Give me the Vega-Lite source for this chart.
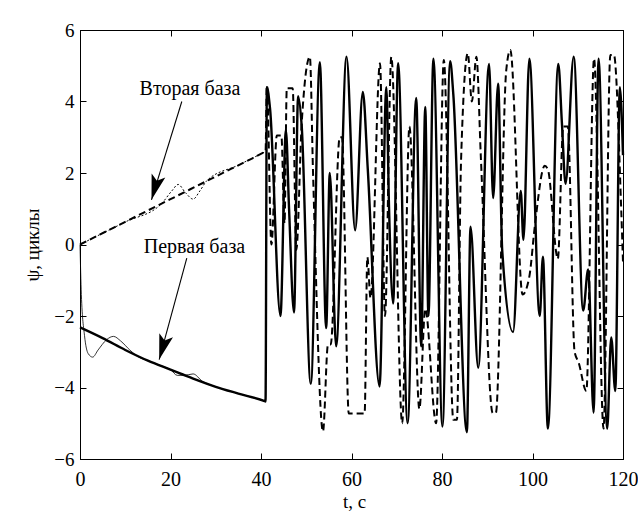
{
 "$schema": "https://vega.github.io/schema/vega-lite/v6.json",
 "width": 543,
 "height": 429,
 "autosize": "none",
 "padding": {"left": 80, "top": 30, "right": 15, "bottom": 59},
 "background": "white",
 "config": {"font": "Liberation Serif", "view": {"stroke": "black", "strokeWidth": 1}},
 "datasets": {
  "fb": [
   {"t":0,"v":-2.32},{"t":5,"v":-2.62},{"t":10,"v":-2.95},{"t":15,"v":-3.25},{"t":20,"v":-3.5},{"t":25,"v":-3.75},{"t":30,"v":-3.98},{"t":35,"v":-4.17},{"t":40.8,"v":-4.38},{"t":41.0,"v":-4.39},
   {"t":41.3,"v":4.4},{"t":42.0,"v":3.8},{"t":44.3,"v":-2.0},{"t":45.5,"v":3.2},{"t":46.2,"v":1.0},{"t":47.3,"v":-1.9},{"t":48.2,"v":4.15},{"t":49.0,"v":3.3},{"t":51.0,"v":-3.9},
   {"t":53.0,"v":5.1},{"t":54.4,"v":-2.34},{"t":55.2,"v":2.0},{"t":56.6,"v":-2.85},{"t":58.9,"v":5.25},{"t":60.8,"v":0.4},{"t":62.5,"v":4.27},{"t":63.6,"v":2.1},{"t":66.2,"v":-3.97},
   {"t":67.7,"v":4.4},{"t":68.3,"v":1.0},{"t":69.2,"v":-1.65},{"t":70.3,"v":5.07},{"t":72.4,"v":-5.0},{"t":74.3,"v":4.1},{"t":75.4,"v":-2.85},{"t":76.3,"v":3.85},{"t":77.0,"v":-2.0},
   {"t":78.1,"v":5.2},{"t":80.1,"v":-5.09},{"t":81.8,"v":5.13},{"t":82.5,"v":4.2},{"t":85.5,"v":-5.25},{"t":86.3,"v":0.5},{"t":88.0,"v":-3.45},{"t":90.4,"v":5.05},{"t":91.3,"v":1.3},
   {"t":92.4,"v":4.5},{"t":93.3,"v":-0.15},{"t":95.7,"v":-2.45},{"t":97.4,"v":1.5},{"t":98.0,"v":0.13},{"t":99.3,"v":5.2},{"t":101.6,"v":-2.0},{"t":102.3,"v":-0.34},{"t":103.4,"v":-5.15},
   {"t":105.7,"v":5.05},{"t":106.5,"v":3.4},{"t":107.3,"v":1.7},{"t":109.1,"v":5.25},{"t":111.2,"v":-1.85},{"t":112.3,"v":-0.7},{"t":113.5,"v":-4.7},{"t":114.6,"v":5.2},{"t":116.5,"v":-5.15},
   {"t":117.4,"v":-2.6},{"t":118.3,"v":-4.1},{"t":119.3,"v":4.4},{"t":120.0,"v":2.5}
  ],
  "sb": [
   {"t":0,"v":0},{"t":10,"v":0.634},{"t":20,"v":1.268},{"t":30,"v":1.902},{"t":40.7,"v":2.58},{"t":41.0,"v":2.6},{"t":41.3,"v":4.45},{"t":42.3,"v":0.0},{"t":43.5,"v":3.05},{"t":44.5,"v":3.05},{"t":45.2,"v":0.6},{"t":45.7,"v":4.37},{"t":47.0,"v":4.37},
   {"t":47.8,"v":-0.15},{"t":49.0,"v":3.4},{"t":50.8,"v":5.25},{"t":51.5,"v":2.0},{"t":53.7,"v":-5.23},{"t":54.8,"v":-2.8},{"t":55.4,"v":-2.8},{"t":57.4,"v":3.0},{"t":57.9,"v":3.0},
   {"t":59.4,"v":-4.73},{"t":62.9,"v":-4.73},{"t":63.5,"v":-0.35},{"t":64.2,"v":-1.5},{"t":66.3,"v":5.07},{"t":67.4,"v":-2.0},{"t":68.8,"v":5.25},{"t":71.2,"v":-5.0},{"t":72.8,"v":3.3},
   {"t":75.0,"v":-4.6},{"t":76.3,"v":-1.8},{"t":78.7,"v":-5.0},{"t":80.4,"v":5.16},{"t":82.5,"v":-4.9},{"t":83.3,"v":-4.9},{"t":84.2,"v":2.3},{"t":85.7,"v":5.35},{"t":86.6,"v":4.0},
   {"t":87.6,"v":5.25},{"t":88.6,"v":2.4},{"t":91.2,"v":-4.71},{"t":91.9,"v":-4.71},{"t":94.2,"v":4.88},{"t":95.1,"v":5.44},{"t":97.8,"v":-1.4},{"t":99.3,"v":-0.9},{"t":100.5,"v":0.5},
   {"t":102.7,"v":2.2},{"t":103.4,"v":2.1},{"t":105.6,"v":-0.4},{"t":106.8,"v":3.3},{"t":107.8,"v":3.3},{"t":109.3,"v":-3.0},{"t":110.2,"v":-3.3},{"t":111.9,"v":-4.1},{"t":113.6,"v":5.2},
   {"t":115.7,"v":-5.15},{"t":117.2,"v":5.3},{"t":118.0,"v":5.3},{"t":119.6,"v":1.0},{"t":120.0,"v":-0.5}
  ],
  "fb_thin": [
   {"t":0,"v":0},{"t":0.3,"v":-1.4},{"t":1,"v":-2.55},{"t":1.8,"v":-3.05},{"t":2.8,"v":-3.15},{"t":4,"v":-2.95},{"t":5.9,"v":-2.66},{"t":7.4,"v":-2.57},{"t":9,"v":-2.7},{"t":11,"v":-2.95},
   {"t":13,"v":-3.15},{"t":15,"v":-3.25},{"t":18,"v":-3.4},{"t":20,"v":-3.5},{"t":21.5,"v":-3.66},{"t":23,"v":-3.66},{"t":25,"v":-3.62},{"t":27,"v":-3.82},{"t":30,"v":-3.98},{"t":35,"v":-4.17},{"t":41,"v":-4.38}
  ],
  "sb_thin": [
   {"t":0,"v":0},{"t":10,"v":0.63},{"t":18,"v":1.14},{"t":20.3,"v":1.5},{"t":21.7,"v":1.68},{"t":23.3,"v":1.45},{"t":25,"v":1.27},{"t":26.5,"v":1.5},{"t":28,"v":1.78},{"t":35,"v":2.22},{"t":41,"v":2.6}
  ],
  "arrows": [
   {"t":22.5,"v":4.0,"t2":15.8,"v2":1.25},
   {"t":23.6,"v":-0.38,"t2":17.5,"v2":-3.22}
  ],
  "labels": [
   {"t":24.3,"v":4.35,"label":"Вторая база"},
   {"t":25.3,"v":-0.06,"label":"Первая база"}
  ]
 },
 "layer": [
  {
   "data": {"name": "fb_thin"},
   "mark": {"type": "line", "color": "black", "strokeWidth": 0.8, "interpolate": "monotone"},
   "encoding": {
    "x": {"field": "t", "type": "quantitative", "scale": {"domain": [0, 120], "nice": false},
     "axis": {"orient": "top", "values": [0,20,40,60,80,100,120], "labels": false, "title": null, "tickSize": -6, "tickColor": "black", "domainColor": "black", "grid": false}},
    "y": {"field": "v", "type": "quantitative", "scale": {"domain": [-6, 6], "nice": false},
     "axis": {"orient": "right", "values": [-6,-4,-2,0,2,4,6], "labels": false, "title": null, "tickSize": -6, "tickColor": "black", "domainColor": "black", "grid": false}}
   }
  },
  {
   "data": {"name": "sb_thin"},
   "mark": {"type": "line", "color": "black", "strokeWidth": 1, "strokeDash": [2, 2], "interpolate": "monotone"},
   "encoding": {
    "x": {"field": "t", "type": "quantitative", "axis": null},
    "y": {"field": "v", "type": "quantitative", "axis": null}
   }
  },
  {
   "data": {"name": "sb"},
   "mark": {"type": "line", "color": "black", "strokeWidth": 2, "strokeDash": [7, 4], "interpolate": "monotone"},
   "encoding": {
    "x": {"field": "t", "type": "quantitative", "axis": null},
    "y": {"field": "v", "type": "quantitative", "axis": null}
   }
  },
  {
   "data": {"name": "fb"},
   "mark": {"type": "line", "color": "black", "strokeWidth": 2.4, "interpolate": "monotone"},
   "encoding": {
    "x": {"field": "t", "type": "quantitative",
     "axis": {"orient": "bottom", "values": [0,20,40,60,80,100,120], "tickSize": -6, "tickColor": "black", "domainColor": "black", "grid": false,
      "labelFontSize": 20, "labelColor": "black", "labelPadding": 16, "labelFlush": false,
      "title": "t, с", "titleFontSize": 19, "titleFontWeight": "normal", "titleColor": "black", "titleX": 274, "titleY": 42, "titleAlign": "center", "titleBaseline": "middle"}},
    "y": {"field": "v", "type": "quantitative",
     "axis": {"orient": "left", "values": [-6,-4,-2,0,2,4,6], "tickSize": -6, "tickColor": "black", "domainColor": "black", "grid": false,
      "labelFontSize": 19, "labelColor": "black", "labelPadding": 12,
      "title": "ψ, циклы", "titleFontSize": 19, "titleFontWeight": "normal", "titleColor": "black", "titleX": -48, "titleY": 214.5, "titleAngle": 270, "titleAlign": "center", "titleBaseline": "middle"}}
   }
  },
  {
   "data": {"name": "arrows"},
   "mark": {"type": "rule", "color": "black", "strokeWidth": 1.1},
   "encoding": {
    "x": {"field": "t", "type": "quantitative", "axis": null},
    "y": {"field": "v", "type": "quantitative", "axis": null},
    "x2": {"field": "t2"},
    "y2": {"field": "v2"}
   }
  },
  {
   "data": {"name": "arrows"},
   "mark": {"type": "point", "shape": "M0,0L-0.45,1.6L0,1.25L0.45,1.6Z", "filled": true, "color": "black", "opacity": 1, "size": 1000, "angle": 196, "strokeWidth": 0},
   "encoding": {
    "x": {"field": "t2", "type": "quantitative", "axis": null},
    "y": {"field": "v2", "type": "quantitative", "axis": null}
   }
  },
  {
   "data": {"name": "labels"},
   "mark": {"type": "text", "color": "black", "fontSize": 20, "font": "Liberation Serif", "align": "center", "baseline": "middle"},
   "encoding": {
    "x": {"field": "t", "type": "quantitative", "axis": null},
    "y": {"field": "v", "type": "quantitative", "axis": null},
    "text": {"field": "label"}
   }
  }
 ],
 "resolve": {"axis": {"x": "independent", "y": "independent"}}
}
